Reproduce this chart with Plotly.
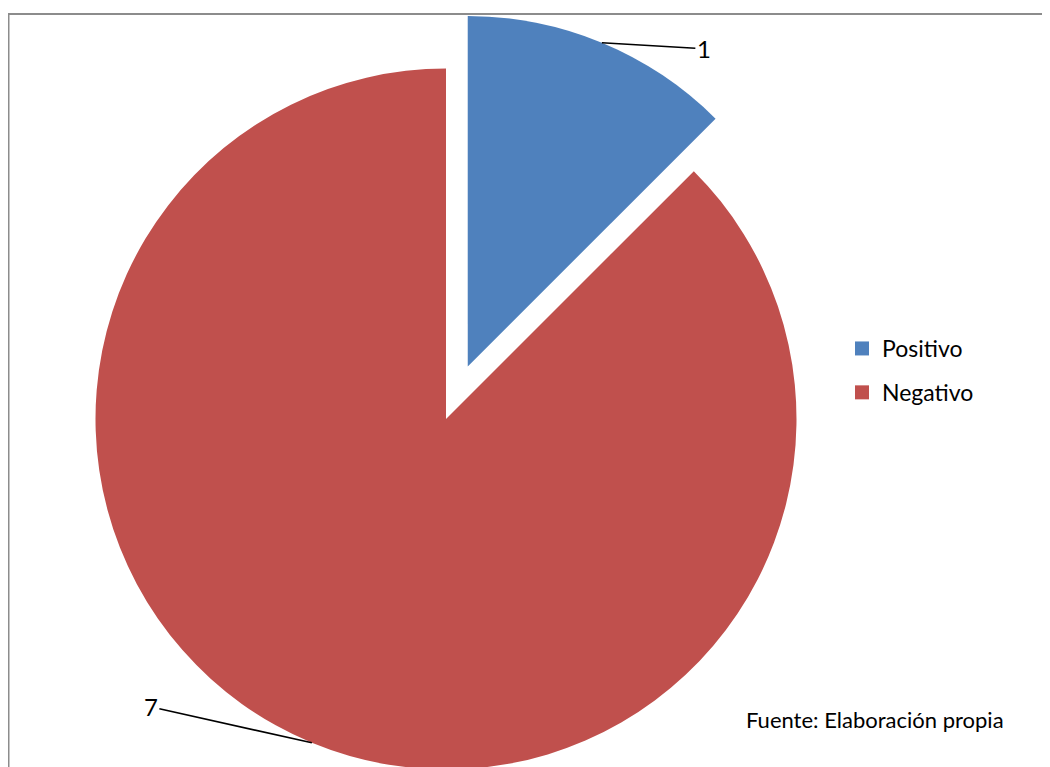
import math
import plotly.graph_objects as go

# ---- data ----
categories = ["Positivo", "Negativo"]
values = [1, 7]
colors = ["#4F81BD", "#C0504D"]
source_note = "Fuente: Elaboración propia"

# ---- layout constants (page pixels) ----
W, H = 1050, 767
OFF = 8                        # page body margin that shifts the figure
CX, CY, R = 446, 419, 350.5    # centre / radius of the pie (page px)
PULL = 0.162                   # exploded fraction of first slice
FONT = "Lato"
TRANSPARENT = "rgba(0,0,0,0)"


def px(x):
    return (x - OFF) / W


def py(y):
    return 1 - (y - OFF) / H


total = sum(values)
# mid-angles (clockwise from 12 o'clock) of every slice
mids = []
acc = 0
for v in values:
    mids.append(360.0 * (acc + v / 2) / total)
    acc += v


def domain_for(cx, cy, r):
    return dict(x=[px(cx - r), px(cx + r)], y=[py(cy + r), py(cy - r)])


# explode offset for the first slice
ang = math.radians(mids[0])
ocx = CX + PULL * R * math.sin(ang)
ocy = CY - PULL * R * math.cos(ang)

fig = go.Figure()

# main pie: every slice except the exploded one
fig.add_trace(go.Pie(
    labels=categories, values=values, sort=False, direction="clockwise", rotation=0,
    marker=dict(colors=[TRANSPARENT] + colors[1:], line=dict(width=0)),
    textinfo="none", showlegend=False, domain=domain_for(CX, CY, R),
    hoverinfo="label+value",
))
# exploded first slice
fig.add_trace(go.Pie(
    labels=categories, values=values, sort=False, direction="clockwise", rotation=0,
    marker=dict(colors=colors[:1] + [TRANSPARENT] * (len(values) - 1), line=dict(width=0)),
    textinfo="none", showlegend=False, domain=domain_for(ocx, ocy, R),
    hoverinfo="label+value",
))

# legend entries
for lab, col in zip(categories, colors):
    fig.add_trace(go.Scatter(
        x=[None], y=[None], mode="markers", name=lab, legendgroup=lab,
        marker=dict(symbol="square", size=14, color=col),
        hoverinfo="skip",
    ))

# data labels with leader lines
centres = [(ocx, ocy), (CX, CY)]
label_offsets = [(102, 6), (-161, -36)]
for v, m, (cx, cy), (ax, ay) in zip(values, mids, centres, label_offsets):
    a = math.radians(m)
    ex = cx + R * math.sin(a)
    ey = cy - R * math.cos(a)
    fig.add_annotation(
        x=px(ex), y=py(ey), xref="paper", yref="paper",
        text=str(v), showarrow=True, arrowhead=0, arrowwidth=1.6, arrowcolor="black",
        ax=ax, ay=ay, font=dict(family=FONT, size=24, color="black"),
    )

fig.add_annotation(
    x=px(744), y=py(719), xref="paper", yref="paper", xanchor="left", yanchor="middle",
    text=source_note, showarrow=False, font=dict(family=FONT, size=22, color="black"),
)

# frame around the chart area
fig.add_shape(type="rect", xref="paper", yref="paper",
              x0=0.5 / W, y0=-0.05, x1=1.05, y1=py(14),
              line=dict(color="#8C8C8C", width=2), fillcolor=TRANSPARENT, layer="below")

fig.update_layout(
    width=W, height=H,
    margin=dict(l=0, r=0, t=0, b=0),
    paper_bgcolor="white", plot_bgcolor="white",
    xaxis=dict(visible=False), yaxis=dict(visible=False),
    legend=dict(x=px(842), y=py(370.5), xanchor="left", yanchor="middle",
                font=dict(family=FONT, size=23, color="black"),
                traceorder="grouped", tracegroupgap=11, bgcolor=TRANSPARENT),
    font=dict(family=FONT),
)

fig.write_html("out.html")
